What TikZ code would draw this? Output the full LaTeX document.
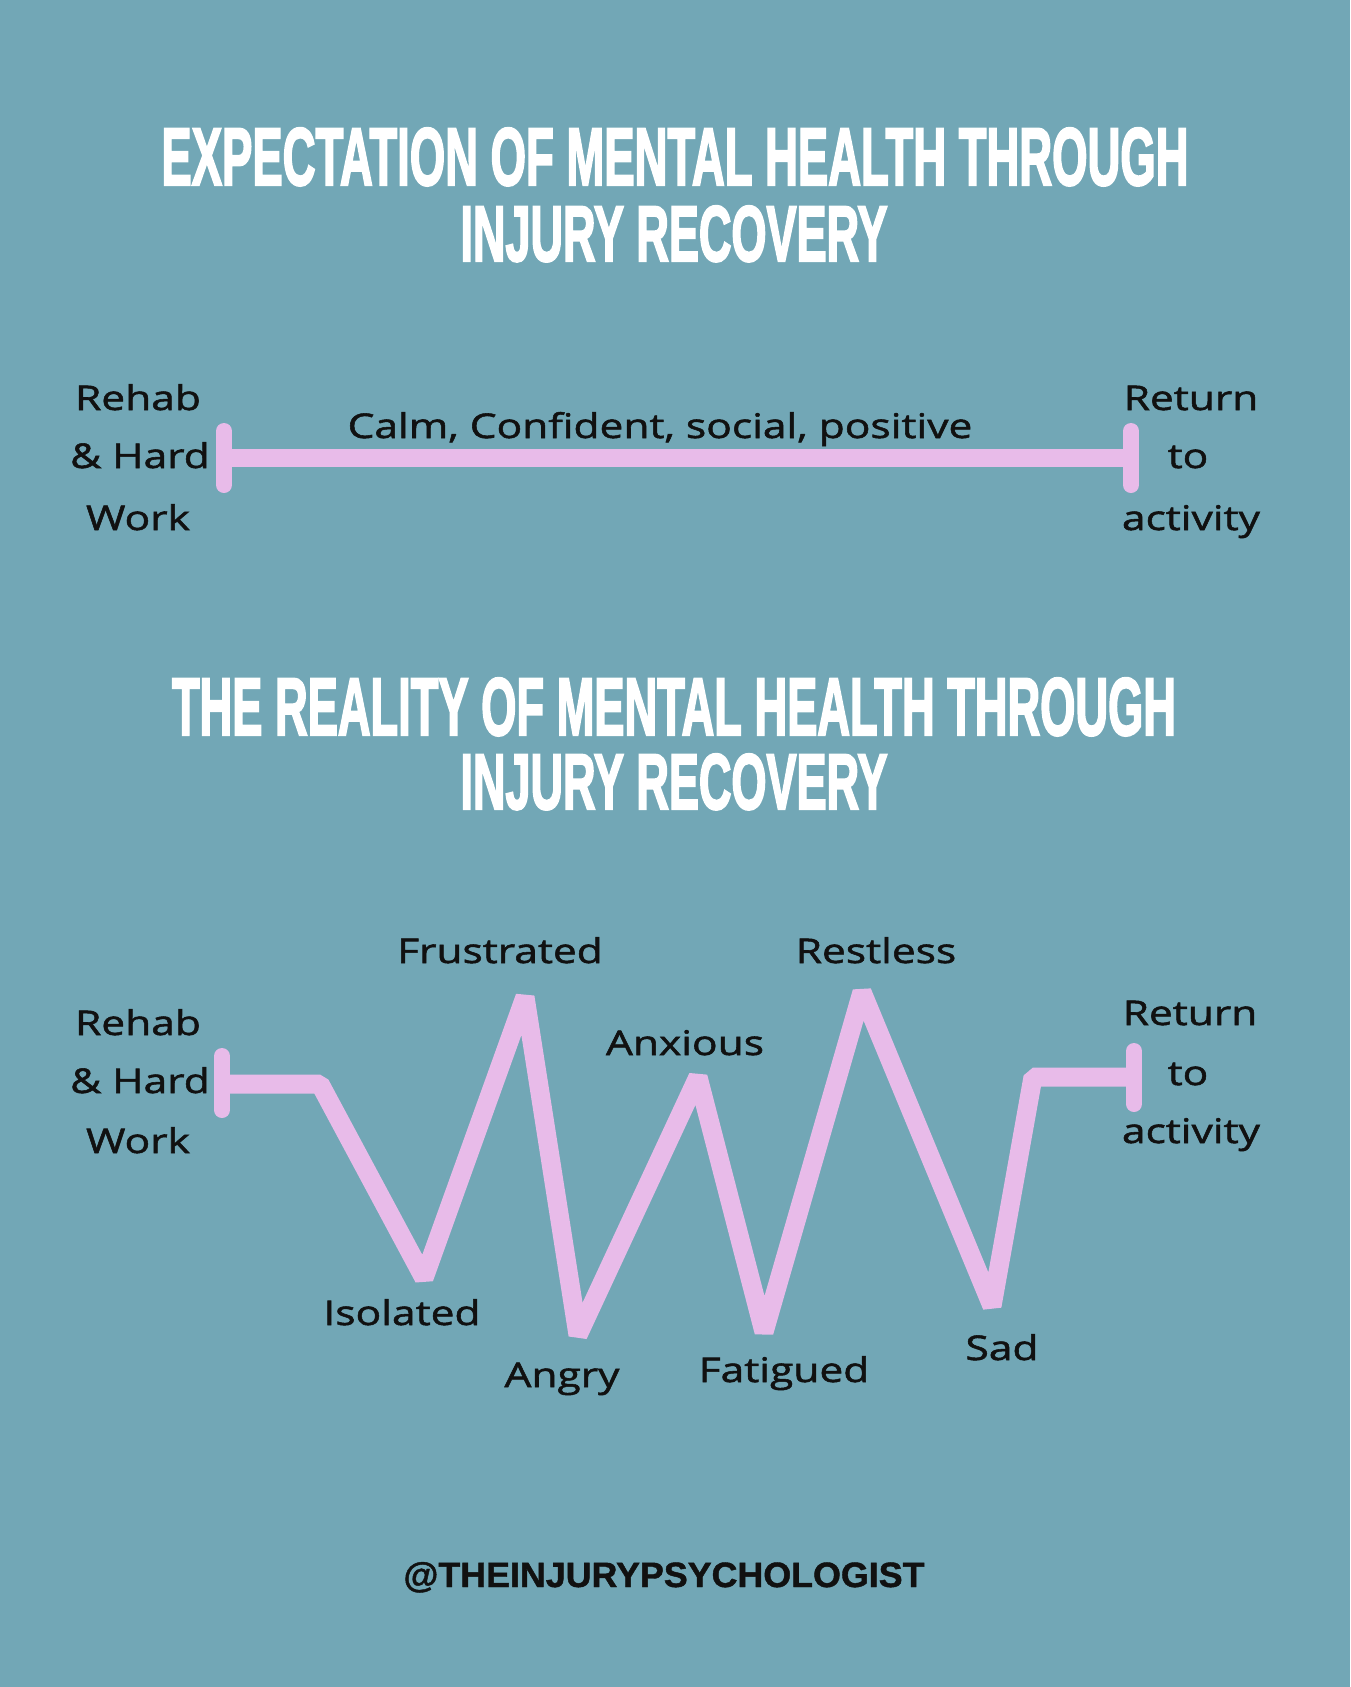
\documentclass[tikz,border=0pt]{standalone}
\usepackage{fontspec}
\usepackage{graphicx}
\newfontfamily\handfont[FakeStretch=1.25,FakeBold=1.6]{Open Sans}
\newfontfamily\titlefont[FakeBold=3]{Liberation Sans}
\newfontfamily\footfont[FakeBold=1.2]{Liberation Sans}
\definecolor{bgteal}{HTML}{72A7B6}
\definecolor{lilac}{HTML}{E8BBE9}
\definecolor{ink}{HTML}{111111}
\tikzset{
  hand/.style={font=\handfont\fontsize{34}{40}\selectfont, text=ink, inner sep=0pt, anchor=base},
  titletext/.style={text=white, inner sep=0pt, anchor=base},
  trackline/.style={draw=lilac, line width=19pt, line join=bevel},
  endbar/.style={draw=lilac, line width=16pt, line cap=round},
}
\begin{document}
\begin{tikzpicture}[x=1pt,y=-1pt]
\fill[bgteal] (0,0) rectangle (1350,1687);
\useasboundingbox (0,0) rectangle (1350,1687);

% Titles
\node[titletext] (t1a) at (675,185) {\resizebox{1027pt}{57pt}{\titlefont\bfseries EXPECTATION OF MENTAL HEALTH THROUGH}};
\node[titletext] (t1b) at (674,261) {\resizebox{427pt}{55pt}{\titlefont\bfseries INJURY RECOVERY}};
\node[titletext] (t2a) at (674,735) {\resizebox{1004pt}{57pt}{\titlefont\bfseries THE REALITY OF MENTAL HEALTH THROUGH}};
\node[titletext] (t2b) at (674,809) {\resizebox{427pt}{55pt}{\titlefont\bfseries INJURY RECOVERY}};

% Expectation line
\coordinate (eL) at (224,458);
\coordinate (eR) at (1131,458);
\coordinate (eLt) at (224,431);
\coordinate (eLb) at (224,485);
\coordinate (eRt) at (1131,431);
\coordinate (eRb) at (1131,485);
\draw[draw=lilac, line width=18pt] (eL) -- (eR);
\draw[endbar] (eLt) -- (eLb);
\draw[endbar] (eRt) -- (eRb);

\node[hand] (ra1) at (138,410) {Rehab};
\node[hand] (ra2) at (140,468) {\& Hard};
\node[hand] (ra3) at (138,530) {Work};
\node[hand] (calm) at (660,438) {Calm, Confident, social, positive};
\node[hand] (rt1) at (1191,410) {Return};
\node[hand] (rt2) at (1188,468) {to};
\node[hand] (rt3) at (1191,530) {activity};

% Reality line
\coordinate (p0) at (222,1084);
\coordinate (p1) at (320,1084);
\coordinate (p2) at (424,1278);
\coordinate (p3) at (525,997);
\coordinate (p4) at (578,1335);
\coordinate (p5) at (698,1077);
\coordinate (p6) at (764,1332);
\coordinate (p7) at (862,992);
\coordinate (p8) at (992,1306);
\coordinate (p9) at (1033,1077);
\coordinate (p10) at (1134,1077);
\draw[trackline] (p0) -- (p1) -- (p2) -- (p3) -- (p4) -- (p5) -- (p6) -- (p7) -- (p8) -- (p9) -- (p10);
\coordinate (bLt) at (222,1056);
\coordinate (bLb) at (222,1110);
\coordinate (bRt) at (1134,1051);
\coordinate (bRb) at (1134,1104);
\draw[endbar] (bLt) -- (bLb);
\draw[endbar] (bRt) -- (bRb);

\node[hand] (rb1) at (138,1035) {Rehab};
\node[hand] (rb2) at (140,1093) {\& Hard};
\node[hand] (rb3) at (138,1153) {Work};
\node[hand] (frus) at (500,963) {Frustrated};
\node[hand] (rest) at (876,963) {Restless};
\node[hand] (anx) at (685,1055) {Anxious};
\node[hand] (iso) at (402,1325) {Isolated};
\node[hand] (ang) at (562,1387) {Angry};
\node[hand] (fat) at (784,1382) {Fatigued};
\node[hand] (sad) at (1002,1360) {Sad};
\node[hand] (rr1) at (1190,1025) {Return};
\node[hand] (rr2) at (1188,1085) {to};
\node[hand] (rr3) at (1191,1143) {activity};

% Footer
\node[inner sep=0pt, anchor=base, text=ink] (foot) at (664,1587) {\resizebox{521pt}{25pt}{\footfont\bfseries @THEINJURYPSYCHOLOGIST}};
\end{tikzpicture}
\end{document}
